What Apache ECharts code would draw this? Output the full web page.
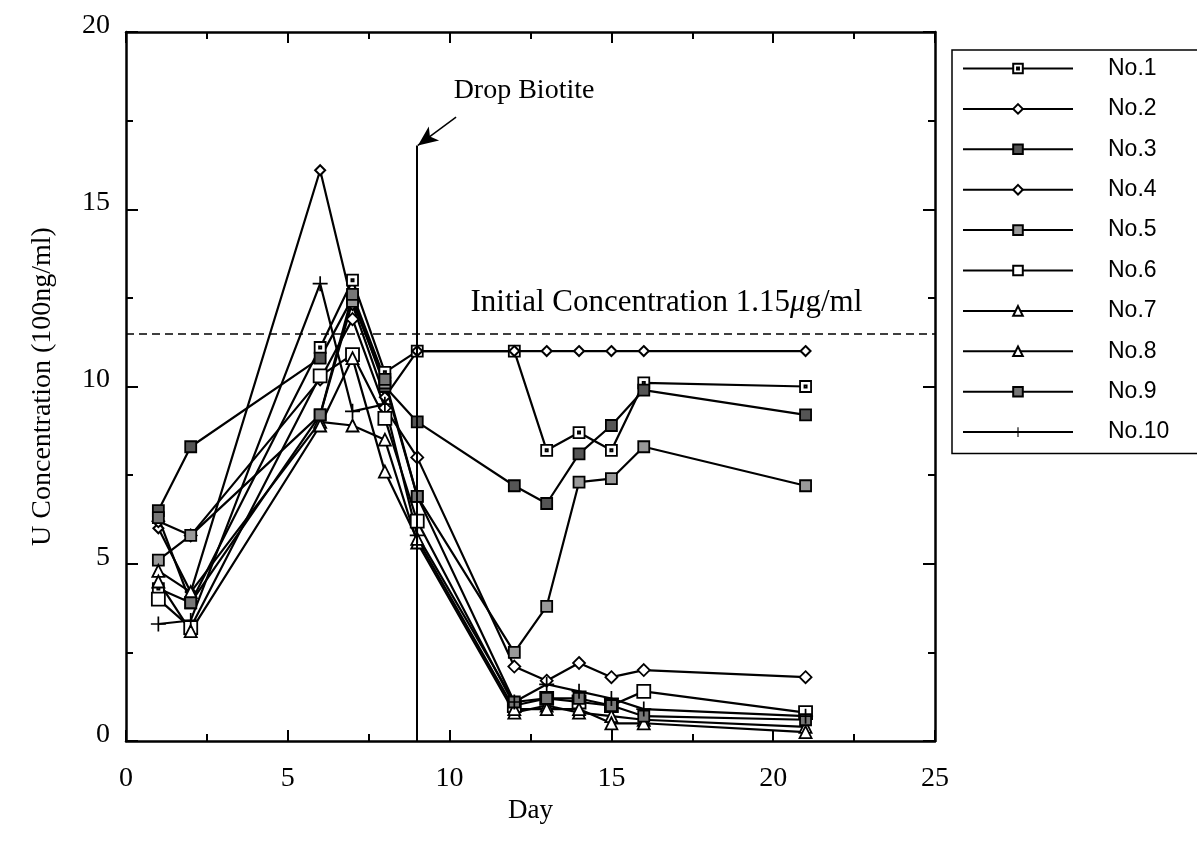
<!DOCTYPE html>
<html>
<head>
<meta charset="utf-8">
<script src="https://cdn.jsdelivr.net/npm/echarts@6/dist/echarts.min.js"></script>
<style>
  html, body { margin: 0; padding: 0; background: #fff; }
  #chart { width: 1197px; height: 851px; }
</style>
</head>
<body>
<div id="chart"></div>
<script>
// Sampling days
const days = [1, 2, 6, 7, 8, 9, 12, 13, 14, 15, 16, 21];

// U concentration (100 ng/ml) per sample
const no1  = [4.3, 3.9, 11.1, 13.0, 10.4, 11.0, 11.0, 8.2, 8.7, 8.2, 10.1, 10.0];
const no2  = [6.0, 4.2, 16.1, 12.3, 9.7, 11.0, 11.0, 11.0, 11.0, 11.0, 11.0, 11.0];
const no3  = [6.5, 8.3, 10.8, 12.5, 10.0, 9.0, 7.2, 6.7, 8.1, 8.9, 9.9, 9.2];
const no4  = [6.2, 5.8, 10.2, 11.9, 9.4, 8.0, 2.1, 1.7, 2.2, 1.8, 2.0, 1.8];
const no5  = [5.1, 5.8, 9.2, 12.4, 10.1, 6.9, 2.5, 3.8, 7.3, 7.4, 8.3, 7.2];
const no6  = [4.0, 3.2, 10.3, 10.9, 9.1, 6.2, 1.0, 1.2, 1.1, 1.0, 1.4, 0.8];
const no7  = [4.8, 4.2, 9.0, 8.9, 8.5, 5.6, 0.8, 1.0, 0.8, 0.7, 0.6, 0.4];
const no8  = [4.5, 3.1, 8.9, 10.8, 7.6, 5.7, 0.9, 0.9, 0.9, 0.5, 0.5, 0.25];
const no9  = [6.3, 3.9, 9.2, 12.6, 10.2, 6.9, 1.1, 1.2, 1.2, 1.0, 0.7, 0.6];
const no10 = [3.3, 3.4, 12.9, 9.3, 9.5, 5.8, 1.1, 1.6, 1.4, 1.2, 0.9, 0.7];

const seriesNames = ['No.1', 'No.2', 'No.3', 'No.4', 'No.5', 'No.6', 'No.7', 'No.8', 'No.9', 'No.10'];
const seriesValues = [no1, no2, no3, no4, no5, no6, no7, no8, no9, no10];

// Reference levels
const initialConc = 11.5;     // 1.15 µg/ml expressed in 100 ng/ml
const dropDay = 9;
const dropLineTop = 16.8;

// Axis ranges
const xMin = 0, xMax = 25, xStep = 5;
const yMin = 0, yMax = 20, yStep = 5;

const SERIF = 'Liberation Serif, Times New Roman, serif';
const SANS = 'Liberation Sans, Arial, sans-serif';

// Marker symbols
const SQ_DOT = 'path://M0,0H10V10H0Z M4,4H6V6H4Z';
const PLUS = 'path://M-0.8,-7H0.8V-0.8H7V0.8H0.8V7H-0.8V0.8H-7V-0.8H-0.8Z';

const markers = [
  { symbol: SQ_DOT,     size: 11, fill: '#fff', border: 1.8 },
  { symbol: 'diamond',  size: 10, fill: '#fff', border: 2 },
  { symbol: 'rect',     size: 11, fill: '#555', border: 1.8 },
  { symbol: 'diamond',  size: 12, fill: '#fff', border: 1.8 },
  { symbol: 'rect',     size: 11, fill: '#999', border: 1.8 },
  { symbol: 'rect',     size: 13, fill: '#fff', border: 1.8 },
  { symbol: 'triangle', size: 12, fill: '#fff', border: 1.8 },
  { symbol: 'triangle', size: 12, fill: '#fff', border: 1.8 },
  { symbol: 'rect',     size: 11, fill: '#777', border: 1.8 },
  { symbol: PLUS,       size: 15, fill: '#000', border: 0 }
];

const dataSeries = seriesNames.map((name, i) => ({
  name: name,
  type: 'line',
  data: days.map((d, j) => [d, seriesValues[i][j]]),
  symbol: markers[i].symbol,
  symbolSize: markers[i].size,
  itemStyle: { color: markers[i].fill, borderColor: '#000', borderWidth: markers[i].border },
  lineStyle: { color: '#000', width: 2.2 },
  z: 3
}));

// Annotation layer: initial level, biotite drop line and arrow, texts
const annotation = {
  type: 'line',
  name: 'annotation',
  data: [],
  silent: true,
  markLine: {
    silent: true,
    symbol: ['none', 'none'],
    label: { show: false },
    data: [
      [{ coord: [xMin, initialConc], lineStyle: { type: [8, 5], width: 1.5, color: '#000' } },
       { coord: [xMax, initialConc] }],
      [{ coord: [dropDay, yMin], lineStyle: { type: 'solid', width: 2, color: '#000' } },
       { coord: [dropDay, dropLineTop] }],
      [{ coord: [10.2, 17.6], symbol: 'none', lineStyle: { type: 'solid', width: 1.5, color: '#000' } },
       { coord: [dropDay + 0.02, dropLineTop], symbol: 'arrow', symbolSize: [13, 20], itemStyle: { color: '#555' } }]
    ]
  },
  markPoint: {
    silent: true,
    symbol: 'rect',
    symbolSize: 0,
    data: [
      { coord: [16.7, 12.35], value: 0,
        label: { show: true, formatter: 'Initial Concentration 1.15{i|μ}g/ml', fontFamily: SERIF, fontSize: 31, color: '#000',
                 rich: { i: { fontFamily: SERIF, fontSize: 31, fontStyle: 'italic', color: '#000' } } } },
      { coord: [12.3, 18.35], value: 0,
        label: { show: true, formatter: 'Drop Biotite', fontFamily: SERIF, fontSize: 28, color: '#000' } }
    ]
  }
};

const axisLineStyle = { onZero: false, lineStyle: { color: '#000', width: 2.5 } };
const tickStyle = { color: '#000', width: 2 };

const option = {
  animation: false,
  backgroundColor: '#fff',
  grid: { left: 126, right: 262, top: 32, bottom: 110, containLabel: false },
  legend: {
    data: seriesNames,
    orient: 'vertical',
    left: 952,
    top: 50,
    itemWidth: 110,
    itemHeight: 12,
    itemGap: 17.4,
    padding: [7, 300, 10, 10],
    borderColor: '#000',
    borderWidth: 1.5,
    selectedMode: false,
    textStyle: { fontFamily: SANS, fontSize: 23, color: '#000', lineHeight: 23, padding: [0, 0, 0, 30] }
  },
  xAxis: [
    {
      type: 'value', min: xMin, max: xMax, interval: xStep, position: 'bottom',
      name: 'Day', nameLocation: 'middle', nameGap: 49,
      nameTextStyle: { fontFamily: SERIF, fontSize: 27, color: '#000' },
      axisLine: axisLineStyle,
      axisTick: { inside: true, length: 11, lineStyle: tickStyle },
      minorTick: { show: true, splitNumber: 2, length: 7, lineStyle: tickStyle },
      axisLabel: { fontFamily: SERIF, fontSize: 28, color: '#000', margin: 24 },
      splitLine: { show: false }
    },
    {
      type: 'value', min: xMin, max: xMax, interval: xStep, position: 'top',
      axisLine: axisLineStyle,
      axisTick: { inside: true, length: 11, lineStyle: tickStyle },
      minorTick: { show: true, splitNumber: 2, length: 7, lineStyle: tickStyle },
      axisLabel: { show: false },
      splitLine: { show: false }
    }
  ],
  yAxis: [
    {
      type: 'value', min: yMin, max: yMax, interval: yStep, position: 'left',
      name: 'U Concentration (100ng/ml)', nameLocation: 'middle', nameGap: 69,
      nameTextStyle: { fontFamily: SERIF, fontSize: 28, color: '#000' },
      axisLine: axisLineStyle,
      axisTick: { inside: true, length: 12, lineStyle: tickStyle },
      minorTick: { show: true, splitNumber: 2, length: 7, lineStyle: tickStyle },
      axisLabel: { fontFamily: SERIF, fontSize: 28, color: '#000', margin: 16, verticalAlign: 'bottom', lineHeight: 13 },
      splitLine: { show: false }
    },
    {
      type: 'value', min: yMin, max: yMax, interval: yStep, position: 'right',
      axisLine: axisLineStyle,
      axisTick: { inside: true, length: 12, lineStyle: tickStyle },
      minorTick: { show: true, splitNumber: 2, length: 7, lineStyle: tickStyle },
      axisLabel: { show: false },
      splitLine: { show: false }
    }
  ],
  series: dataSeries.concat([annotation])
};

const chart = echarts.init(document.getElementById('chart'), null, { renderer: 'canvas' });
chart.setOption(option);
</script>
</body>
</html>
